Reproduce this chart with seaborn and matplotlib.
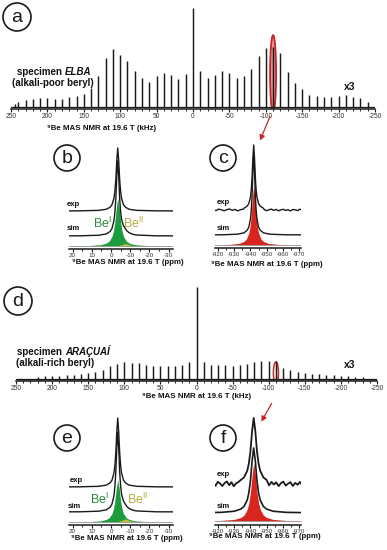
import numpy as np
import seaborn as sns
import matplotlib.pyplot as plt
from matplotlib.patches import Circle, Ellipse, FancyArrowPatch
from matplotlib.ticker import MultipleLocator

# ---- spinning sideband manifolds (kHz offset, intensity in arb. units)
elba_khz = [245, 240, 230, 220, 210, 200, 190, 180, 170, 160, 150, 140, 130,
            120, 110, 100, 90, 80, 70, 60, 50, 40, 30, 20, 10, 0,
            -10, -20, -30, -40, -50, -60, -70, -80, -90, -100, -110, -120,
            -130, -140, -150, -160, -170, -180, -190, -200, -210, -220, -230, -240]
elba_int = [9, 14, 20, 24, 27, 28, 25, 25, 30, 34, 39, 57, 94,
            147, 174, 155, 139, 107, 86, 76, 94, 102, 96, 85, 99, 297,
            109, 86, 95, 107, 102, 87, 94, 115, 152, 176, 180, 162,
            106, 71, 55, 36, 32, 29, 30, 32, 35, 31, 27, 14]

arac_khz = [220, 210, 200, 190, 180, 170, 160, 150, 140, 130, 120,
            110, 100, 90, 80, 70, 60, 50, 40, 30, 20, 10, 0,
            -10, -20, -30, -40, -50, -60, -70, -80, -90, -100, -110, -120,
            -130, -140, -150, -160, -170, -180, -190, -200, -210, -220, -230]
arac_int = [7, 9, 9, 10, 11, 13, 15, 17, 20, 28, 38,
            45, 50, 49, 47, 43, 40, 40, 38, 40, 43, 50, 275,
            52, 42, 42, 42, 40, 41, 45, 52, 55, 55, 53, 33,
            27, 20, 18, 16, 14, 12, 11, 10, 9, 7, 5]

# ---- central-transition line shapes (offset from line centre in ppm, fraction of height)
lor_off = [0, 0.5, 1, 1.5, 2, 3, 4, 6, 10, 20, 60]
lor_frac = [1.0, 0.8, 0.5, 0.31, 0.2, 0.1, 0.06, 0.027, 0.01, 0.0025, 0.0]
mid_off = [0, 0.75, 1.5, 2.25, 3, 4.5, 6, 9, 15, 30, 90]
wide_off = [0, 1, 2, 3, 4, 6, 8, 12, 20, 40, 80]
# simulated Be(I) + Be(II) sum, asymmetric (shoulder on the low-ppm side)
sim_be_off = [-60, -20, -10, -8, -6, -5, -4, -3.5, -3, -2, -1.5, -1, -0.5,
              0, 0.5, 1, 1.5, 2, 3, 4, 6, 10, 20, 60]
sim_be_frac = [0, .0025, .013, .021, .043, .063, .096, .118, .135, .222, .325, .504, .8,
               1, .8, .5, .31, .2, .1, .06, .027, .01, .0025, 0]

be1_ppm = -3.5
be2_ppm = -7.5
ctr_ppm = -942.0

# exp noise (px) on the Be-ring sideband traces
c_noise_l = [0.5, -0.6, 0.9, 0.2, -0.8, 0.4, 1.0, -0.3, 0.6, -0.9, 0.3, 0.8]
c_noise_r = [0.4, -0.7, 0.2, 0.9, -0.4, 0.6, -0.8, 0.1, 0.7, -0.5, 0.3, -0.9, 0.5, 0.2, -0.6, 0.8, -0.2]
f_noise_l = [1.5, -1.8, 2.2, 0.4, -2.0, 1.0, 2.5, -1.2, 1.8, -2.3, 0.6, 1.9]
f_noise_r = [-1.4, 2.1, -0.6, 1.7, -2.2, 0.9, 2.4, -1.6, 0.3, 1.8, -2.0, 1.1, -0.7, 2.0, -1.3]

GREEN = "#1c9c3c"
YELLOW = "#c4bc3c"
RED = "#d8261e"
ARROW = "#c62828"

sns.set_theme(style="white")
plt.rcParams["font.family"] = ["Liberation Sans", "DejaVu Sans"]
plt.rcParams["mathtext.fontset"] = "custom"
plt.rcParams["mathtext.rm"] = "Liberation Sans"
plt.rcParams["mathtext.bf"] = "Liberation Sans:bold"
plt.rcParams["axes.unicode_minus"] = False

W, H = 387, 550
fig = plt.figure(figsize=(W / 100, H / 100), dpi=100)


def px_axes(x0, y0, x1, y1):
    return fig.add_axes([x0 / W, 1 - y1 / H, (x1 - x0) / W, (y1 - y0) / H])


def style_axis(ax, major, minor, fs):
    for s in ("top", "left", "right"):
        ax.spines[s].set_visible(False)
    ax.spines["bottom"].set_linewidth(1.1)
    ax.spines["bottom"].set_color("k")
    ax.set_yticks([])
    ax.xaxis.set_major_locator(MultipleLocator(major))
    ax.xaxis.set_minor_locator(MultipleLocator(minor))
    ax.tick_params(axis="x", which="major", bottom=True, direction="out", length=2.2,
                   width=0.8, labelsize=fs, pad=1.0, color="k", labelcolor="#333")
    ax.tick_params(axis="x", which="minor", bottom=True, direction="out", length=1.3,
                   width=0.7, color="k")
    ax.set_facecolor("none")
    ax.set_xlabel("")
    ax.set_ylabel("")


def peak(center, height, base, off, frac):
    off = np.asarray(off, float)
    frac = np.asarray(frac, float)
    x = np.concatenate([center - off[::-1], center + off[1:]])
    y = np.concatenate([frac[::-1], frac[1:]]) * height + base
    return x, y


def line(ax, x, y, lw=1.0):
    sns.lineplot(x=x, y=y, ax=ax, color="k", lw=lw, estimator=None, sort=True, legend=False)


def noisy_exp(ax, center, height, base, off, n_keep, left, right, lx, rx, lw):
    px, py = peak(center, height, base, off[:n_keep], lor_frac[:n_keep])
    xl = np.linspace(lx[0], lx[1], len(left))
    xr = np.linspace(rx[0], rx[1], len(right))
    x = np.concatenate([xl, px, xr])
    y = np.concatenate([base + np.asarray(left), py, base + np.asarray(right)])
    line(ax, x, y, lw)


# ---------------- panel a
axA = px_axes(11, 0, 375, 109)
axA.vlines(elba_khz, 0, elba_int, color="k", lw=1.05)
axA.axhline(0, color="k", lw=0.9)
axA.add_patch(Ellipse((-110, 100), width=8.3, height=231, facecolor=ARROW, alpha=0.5,
                      edgecolor="none"))
axA.add_patch(Ellipse((-110, 100), width=8.3, height=231, facecolor="none",
                      edgecolor=ARROW, lw=1.3))
axA.set_xlim(250, -250)
axA.set_ylim(-6, 321)
style_axis(axA, 50, 10, 4.8)

# ---------------- panel d
axD = px_axes(16, 280, 377, 381)
axD.vlines(arac_khz, 0, arac_int, color="k", lw=1.05)
axD.axhline(0, color="k", lw=0.9)
axD.axhline(-3, color="#888", lw=0.6)
axD.add_patch(Ellipse((-110, 18), width=7, height=66, facecolor="none",
                      edgecolor=ARROW, lw=1.1))
axD.set_xlim(250, -250)
axD.set_ylim(-6, 297)
style_axis(axD, 50, 10, 4.8)

# ---------------- panels b / e  (Be site resolved central transition)
for box, exp_h, sim_h, g_h, y2_h in [((69, 140, 173, 249), 63, 75, 48, 2.5),
                                      ((69, 412, 173, 525), 69, 80, 42, 3.0)]:
    ax = px_axes(*box)
    ax.axhline(3, color="#999", lw=0.6)
    gx, gy = peak(be1_ppm, g_h, 3, mid_off, lor_frac)
    ax.fill_between(gx, 3, gy, color=GREEN, lw=0)
    yx, yy = peak(be2_ppm, y2_h, 3, wide_off, lor_frac)
    ax.fill_between(yx, 3, yy, color=YELLOW, lw=0)
    sx = be1_ppm + np.asarray(sim_be_off)
    sy = 13 + sim_h * np.asarray(sim_be_frac)
    line(ax, sx, sy)
    ex, ey = peak(be1_ppm, exp_h, 38, lor_off, lor_frac)
    line(ax, ex, ey)
    ax.set_xlim(21.9, -32.3)
    ax.set_ylim(0, box[3] - box[1])
    style_axis(ax, 10, 5, 4.5)

# ---------------- panel c
axC = px_axes(215, 135, 301, 248)
axC.axhline(3, color="#999", lw=0.6)
rx_, ry_ = peak(ctr_ppm, 60, 3, mid_off, lor_frac)
axC.fill_between(rx_, 3, ry_, color=RED, lw=0)
sx, sy = peak(ctr_ppm, 80, 13, lor_off, lor_frac)
line(axC, sx, sy)
noisy_exp(axC, ctr_ppm, 65, 38, lor_off, 8, c_noise_l, c_noise_r,
          (-917, -935.5), (-948.5, -972), 1.0)
axC.set_xlim(-918.1, -971.2)
axC.set_ylim(0, 113)
style_axis(axC, 10, 5, 4.4)

# ---------------- panel f
axF = px_axes(215, 412, 301, 525)
axF.axhline(4, color="#999", lw=0.6)
rx_, ry_ = peak(ctr_ppm, 58, 4, wide_off, lor_frac)
axF.fill_between(rx_, 4, ry_, color=RED, lw=0)
sx, sy = peak(ctr_ppm, 65, 12, wide_off, lor_frac)
line(axF, sx, sy, 1.2)
noisy_exp(axF, ctr_ppm, 66, 41, wide_off, 7, f_noise_l, f_noise_r,
          (-917, -932.5), (-951.5, -972), 1.3)
axF.set_xlim(-918.1, -971.2)
axF.set_ylim(0, 113)
style_axis(axF, 10, 5, 4.4)

# ---------------- overlay: labels, circles, arrows (pixel coordinates)
ov = fig.add_axes([0, 0, 1, 1])
ov.set_xlim(0, W)
ov.set_ylim(H, 0)
ov.axis("off")
ov.set_zorder(10)
ov.patch.set_alpha(0)

for (cx, cy, r, lab) in [(17, 17, 14, "a"), (67, 158, 13, "b"), (223, 158, 13, "c"),
                         (18, 301, 14, "d"), (67, 438, 13, "e"), (223, 438, 13, "f")]:
    ov.add_patch(Circle((cx, cy), r, facecolor="white", edgecolor="k", lw=1.2))
    ov.text(cx, cy + 0.5, lab, ha="center", va="center", fontsize=14, color="k")

xl_kw = dict(fontsize=5.7, fontweight="bold", ha="center", va="center", color="#111")
ov.text(102, 128, "⁹Be MAS NMR at 19.6 T (kHz)", **xl_kw)
ov.text(197, 397, "⁹Be MAS NMR at 19.6 T (kHz)", **xl_kw)
ov.text(128, 263, "⁹Be MAS NMR at 19.6 T (ppm)", **xl_kw)
ov.text(267, 265, "⁹Be MAS NMR at 19.6 T (ppm)", **xl_kw)
ov.text(127, 538, "⁹Be MAS NMR at 19.6 T (ppm)", **xl_kw)
ov.text(265, 537, "⁹Be MAS NMR at 19.6 T (ppm)", **xl_kw)

sp_kw = dict(fontsize=7, fontweight="bold", color="#111", va="baseline")
t1 = ov.text(17, 75, "specimen ", ha="left", **sp_kw)
ov.annotate("ELBA", xy=(1, 0), xycoords=t1, ha="left", va="bottom", fontsize=7,
            fontweight="bold", fontstyle="italic", color="#111")
ov.text(53, 83, "(alkali-poor beryl)", ha="center", va="center", fontsize=7,
        fontweight="bold", color="#111")
t2 = ov.text(17, 355, "specimen ", ha="left", **sp_kw)
ov.annotate("ARAÇUAÍ", xy=(1, 0), xycoords=t2, ha="left", va="bottom", fontsize=7,
            fontweight="bold", fontstyle="italic", color="#111")
ov.text(55, 363, "(alkali-rich beryl)", ha="center", va="center", fontsize=7,
        fontweight="bold", color="#111")
ov.text(350, 87, "x3", ha="center", va="center", fontsize=7.5, fontweight="bold", color="#111")
ov.text(350, 365, "x3", ha="center", va="center", fontsize=7.5, fontweight="bold", color="#111")

lab_kw = dict(fontsize=5.6, fontweight="bold", ha="left", va="center", color="#111")
for (x, y, s) in [(67, 205, "exp"), (67, 229, "sim"), (217, 203, "exp"), (217, 229, "sim"),
                  (70, 481, "exp"), (68, 507, "sim"), (217, 474, "exp"), (217, 507, "sim")]:
    ov.text(x, y, s, **lab_kw)

be_kw = dict(fontsize=9, ha="center", va="center")
ov.text(102, 223, r"Be$^{\rm I}$", color="#2a8a3c", **be_kw)
ov.text(134, 223, r"Be$^{\rm II}$", color="#b4ae3c", **be_kw)
ov.text(99, 499, r"Be$^{\rm I}$", color="#2a8a3c", **be_kw)
ov.text(138, 499, r"Be$^{\rm II}$", color="#b4ae3c", **be_kw)

for (p0, p1) in [((271, 114), (259, 143)), ((273, 401), (260, 424))]:
    ov.add_patch(FancyArrowPatch(p0, p1, arrowstyle="-|>,head_length=3,head_width=1.6",
                                 color=ARROW, lw=0.9, mutation_scale=1))

fig.savefig("out.png", dpi=100)
